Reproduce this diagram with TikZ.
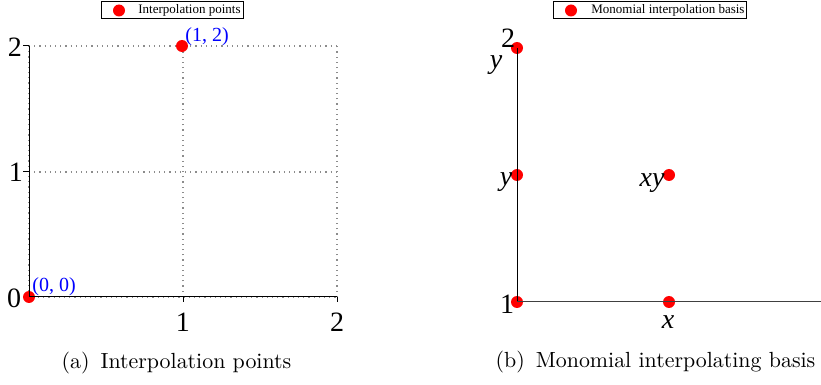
\documentclass[tikz,border=0pt]{standalone}
\usepackage{fontspec}
\newfontfamily\plotfont{Liberation Serif}
\begin{document}
\begin{tikzpicture}[x=0.5pt,y=-0.5pt,
  dot/.style={circle,fill=red,inner sep=0pt,minimum size=6pt},
  ticklab/.style={font=\plotfont\fontsize{14}{14}\selectfont,inner sep=0pt},
  ptlabel/.style={font=\plotfont\fontsize{10}{10}\selectfont,text=blue,inner sep=0pt},
  mono/.style={font=\plotfont\itshape\fontsize{14}{14}\selectfont,inner sep=0pt},
  legtext/.style={font=\plotfont\fontsize{6.5}{7}\selectfont,inner sep=0pt,anchor=west},
  legbox/.style={draw=black,line width=0.5pt},
  gridline/.style={black!45,line width=0.6pt,dash pattern=on 0.6pt off 2pt},
  axisline/.style={black,line width=0.5pt},
  captext/.style={inner sep=0pt,font=\fontsize{10.95}{13}\selectfont}]
\useasboundingbox (0,0) rectangle (821,385);

% ---------- left plot ----------
\coordinate (o) at (29,297);
\coordinate (x1) at (183,297);
\coordinate (x2) at (337,297);
\coordinate (y1) at (29,172);
\coordinate (y2) at (29,46);
\coordinate (x1t) at (183,46);
\coordinate (x2t) at (337,46);
\coordinate (x2m) at (337,172);
\coordinate (y1l) at (23,172);
\coordinate (y2l) at (23,46);
\coordinate (x1d) at (183,302);
\coordinate (x2d) at (337,302);

\draw[gridline] (y1) -- (x2m);
\draw[gridline] (y2) -- (x2t);
\draw[gridline] (x1) -- (x1t);
\draw[gridline] (x2) -- (x2t);
\draw[gridline,line width=1.1pt] (y2) -- (o) -- (x2);

\node[ticklab] (ly2) at (15,47) {2};
\node[ticklab] (ly1) at (16,172) {1};
\node[ticklab] (ly0) at (14,298) {0};
\node[ticklab] (lx1) at (183,322) {1};
\node[ticklab] (lx2) at (337,322) {2};

\node[dot] (p00) at (29,297) {};
\node[dot] (p12) at (182,46) {};
\node[ptlabel] (t00) at (54,287) {(0, 0)};
\node[ptlabel] (t12) at (207,37) {(1, 2)};

\draw[axisline] (y2) -- (o) -- (x2);
\draw[axisline] (y1l) -- (y1);
\draw[axisline] (y2l) -- (y2);
\draw[axisline] (x1) -- (x1d);
\draw[axisline] (x2) -- (x2d);

\draw[legbox] (101,2) rectangle (243,19);
\node[dot] (lega) at (119,10.5) {};
\node[legtext] (legat) at (138,10.5) {Interpolation points};

\node[captext] (capa) at (176.5,363) {(a)\enspace Interpolation points};

% ---------- right plot ----------
\node[dot] (b1) at (517,302) {};
\node[dot] (bx) at (669,302) {};
\node[dot] (by) at (517,175) {};
\node[dot] (bxy) at (669,175) {};
\node[dot] (byy) at (517,48) {};
\coordinate (bend) at (821,302);

\draw[axisline] (byy.center) -- (b1.center);
\draw[black!75,line width=0.5pt] (b1.center) -- (bend);

\node[mono] (l1) at (507,304) {\upshape 1};
\node[mono] (lx) at (668,322) {x};
\node[mono] (ly) at (506,182) {y};
\node[mono] (lxy) at (652,183) {xy};
\node[mono] (lyy) at (496,65) {y};
\node[ticklab] (lyy2) at (508,38) {2};

\draw[legbox] (553,2) rectangle (746,19);
\node[dot] (legb) at (571,10.5) {};
\node[legtext] (legbt) at (591,10.5) {Monomial interpolation basis};

\node[captext] (capb) at (655.5,362) {(b)\enspace Monomial interpolating basis};
\end{tikzpicture}
\end{document}
